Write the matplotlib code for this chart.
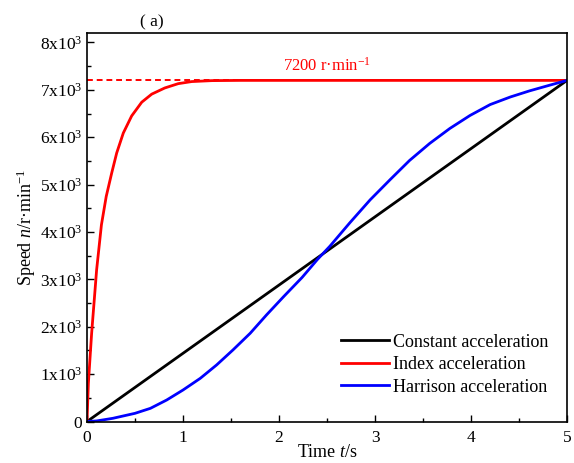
import matplotlib
matplotlib.use("Agg")
import matplotlib.pyplot as plt
from matplotlib.ticker import MultipleLocator, FuncFormatter

plt.rcParams['font.family'] = ['Liberation Serif', 'DejaVu Serif']
plt.rcParams['mathtext.fontset'] = 'custom'
plt.rcParams['mathtext.rm'] = 'Liberation Serif'
plt.rcParams['mathtext.it'] = 'Liberation Serif:italic'

# constant acceleration
t_const = [0, 5]
n_const = [0, 7200]

# index (exponential) acceleration
t_index = [0, 0.014, 0.048, 0.1, 0.15, 0.2, 0.257, 0.309, 0.378, 0.465, 0.57,
           0.674, 0.81, 0.95, 1.09, 1.3, 1.6, 2.0, 5.0]
n_index = [0, 806, 1860, 3200, 4150, 4750, 5244, 5667, 6089, 6450, 6740,
           6910, 7040, 7131, 7175, 7195, 7200, 7200, 7200]

# Harrison acceleration
t_harr = [0, 0.1, 0.27, 0.5, 0.66, 0.83, 1.0, 1.18, 1.35, 1.52, 1.70, 1.87,
          2.05, 2.24, 2.4, 2.53, 2.74, 2.95, 3.16, 3.36, 3.57, 3.78, 3.99,
          4.20, 4.41, 4.61, 4.82, 5.0]
n_harr = [0, 12, 68, 173, 278, 454, 665, 912, 1194, 1510, 1863, 2250,
          2640, 3040, 3420, 3700, 4200, 4680, 5110, 5510, 5870, 6186, 6460,
          6690, 6850, 6979, 7099, 7200]

fig = plt.figure(figsize=(5.74, 4.63), dpi=100)
ax = fig.add_axes([0.1516, 0.0896, 0.8362, 0.8391])

ax.plot([0, 5], [7200, 7200], color='red', lw=1.4, ls=(0, (3, 2)))
ax.plot(t_const, n_const, color='black', lw=2, label='Constant acceleration')
ax.plot(t_index, n_index, color='red', lw=2, label='Index acceleration')
ax.plot(t_harr, n_harr, color='blue', lw=2, label='Harrison acceleration')

ax.text(2.5, 7330, '7200 r·min$^{-1}$', color='red', fontsize=12, ha='center', va='bottom')
ax.text(0.11, 1.008, '( a)', transform=ax.transAxes, fontsize=12.5, ha='left', va='bottom')

ax.set_xlim(0, 5)
ax.set_ylim(0, 8200)
ax.xaxis.set_major_locator(MultipleLocator(1))
ax.xaxis.set_minor_locator(MultipleLocator(0.5))
ax.yaxis.set_major_locator(MultipleLocator(1000))
ax.yaxis.set_minor_locator(MultipleLocator(500))

def yfmt(v, pos):
    if v == 0:
        return '0'
    return '%dx10$^{3}$' % round(v / 1000)

ax.yaxis.set_major_formatter(FuncFormatter(yfmt))
ax.tick_params(which='both', direction='in', labelsize=12.5)
ax.tick_params(axis='x', pad=6)
ax.tick_params(which='major', length=5, width=1)
ax.tick_params(which='minor', length=3, width=1)
for s in ax.spines.values():
    s.set_linewidth(1.2)

ax.set_xlabel('Time $t$/s', fontsize=13, labelpad=-1)
ax.set_ylabel('Speed $n$/r·min$^{-1}$', fontsize=13, labelpad=1)

ax.legend(loc='lower right', frameon=False, fontsize=13, handlelength=2.7,
          handletextpad=0.2, bbox_to_anchor=(0.995, 0.025), labelspacing=0.3)

fig.savefig('out.png', dpi=100)
